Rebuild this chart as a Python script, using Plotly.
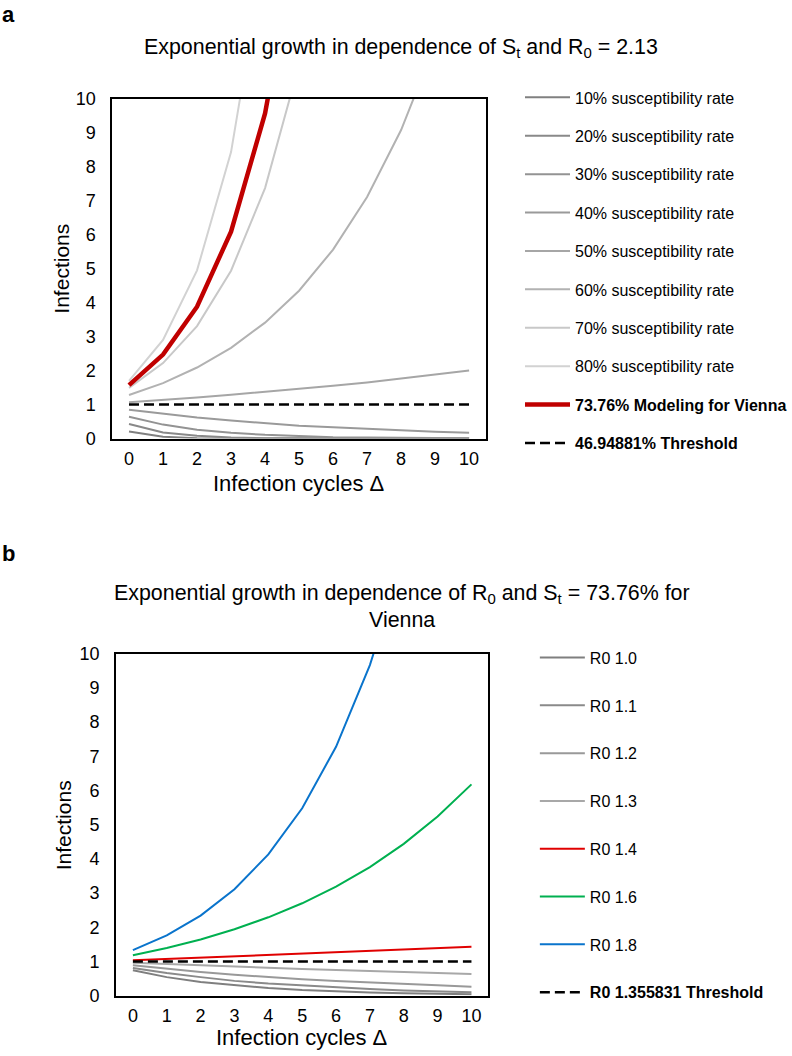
import plotly.graph_objects as go

# infection cycles (x axis of both panels)
cycles = [0, 1, 2, 3, 4, 5, 6, 7, 8, 9, 10]
tick_labels = ["0", "1", "2", "3", "4", "5", "6", "7", "8", "9", "10"]

# panel a: susceptibility rates with R0 = 2.13
names_a = [
    "10% susceptibility rate", "20% susceptibility rate", "30% susceptibility rate",
    "40% susceptibility rate", "50% susceptibility rate", "60% susceptibility rate",
    "70% susceptibility rate", "80% susceptibility rate",
    "<b>73.76% Modeling for Vienna</b>", "<b>46.94881% Threshold</b>",
]
s10 = [0.21, 0.05, 0.01, 0.00, 0.00, 0.00, 0.00, 0.00, 0.00, 0.00, 0.00]
s20 = [0.43, 0.18, 0.08, 0.03, 0.01, 0.01, 0.00, 0.00, 0.00, 0.00, 0.00]
s30 = [0.64, 0.41, 0.26, 0.17, 0.11, 0.07, 0.04, 0.03, 0.02, 0.01, 0.01]
s40 = [0.85, 0.73, 0.62, 0.53, 0.45, 0.38, 0.33, 0.28, 0.24, 0.20, 0.17]
s50 = [1.07, 1.13, 1.21, 1.29, 1.37, 1.46, 1.55, 1.65, 1.76, 1.88, 2.00]
s60 = [1.28, 1.63, 2.09, 2.67, 3.41, 4.35, 5.56, 7.11, 9.08, 11.6]
s70 = [1.49, 2.22, 3.31, 4.94, 7.37, 11.0]
s80 = [1.70, 2.90, 4.95, 8.43, 14.4]
vienna = [1.57, 2.47, 3.88, 6.09, 9.57, 15.0]
threshold_a = [1.0, 1.0, 1.0, 1.0, 1.0, 1.0, 1.0, 1.0, 1.0, 1.0, 1.0]

# panel b: R0 values with St = 73.76%
names_b = ["R0 1.0", "R0 1.1", "R0 1.2", "R0 1.3", "R0 1.4", "R0 1.6", "R0 1.8",
           "<b>R0 1.355831 Threshold</b>"]
r10 = [0.74, 0.54, 0.40, 0.30, 0.22, 0.16, 0.12, 0.09, 0.07, 0.05, 0.04]
r11 = [0.81, 0.66, 0.54, 0.43, 0.35, 0.29, 0.23, 0.19, 0.15, 0.12, 0.10]
r12 = [0.89, 0.78, 0.69, 0.61, 0.54, 0.48, 0.43, 0.38, 0.33, 0.30, 0.26]
r13 = [0.96, 0.92, 0.88, 0.85, 0.81, 0.78, 0.75, 0.72, 0.69, 0.66, 0.63]
r14 = [1.03, 1.07, 1.10, 1.14, 1.18, 1.22, 1.26, 1.30, 1.34, 1.38, 1.43]
r16 = [1.18, 1.39, 1.64, 1.94, 2.29, 2.70, 3.19, 3.76, 4.44, 5.24, 6.18]
r18 = [1.33, 1.76, 2.34, 3.11, 4.13, 5.48, 7.28, 9.67, 12.8]
threshold_b = [1.0, 1.0, 1.0, 1.0, 1.0, 1.0, 1.0, 1.0, 1.0, 1.0, 1.0]

series_a = [s10, s20, s30, s40, s50, s60, s70, s80, vienna, threshold_a]
series_b = [r10, r11, r12, r13, r14, r16, r18, threshold_b]

colors_a = ["#808080", "#898989", "#939393", "#9a9a9a", "#a6a6a6", "#b2b2b2",
            "#c8c8c8", "#d2d2d2", "#c00000", "black"]
widths_a = [2, 2, 2, 2, 2, 2, 2, 2, 4.5, 2.5]
colors_b = ["#7f7f7f", "#8a8a8a", "#999999", "#a8a8a8", "#e00000", "#00b050",
            "#0a74cc", "black"]
widths_b = [2, 2, 2, 2, 2, 2, 2, 2.5]

FONT = "Liberation Sans, Arial, sans-serif"
W, H = 792, 1056
# measured from earlier renders: the legends push the margins a little, so the
# plot comes out slightly squeezed vertically and pushed down; pre-correct that
SQUEEZE, SHIFT = 0.9817, 8.64

fig = go.Figure()

for i, (name, vals) in enumerate(zip(names_a, series_a)):
    dash = "10px,5px" if "Threshold" in name else "solid"
    fig.add_trace(go.Scatter(
        x=cycles[:len(vals)], y=vals, mode="lines", name=name,
        line=dict(color=colors_a[i], width=widths_a[i], dash=dash),
        xaxis="x", yaxis="y", legend="legend", legendgroup="a%d" % i,
    ))

for i, (name, vals) in enumerate(zip(names_b, series_b)):
    dash = "10px,5px" if "Threshold" in name else "solid"
    fig.add_trace(go.Scatter(
        x=cycles[:len(vals)], y=vals, mode="lines", name=name,
        line=dict(color=colors_b[i], width=widths_b[i], dash=dash),
        xaxis="x2", yaxis="y2", legend="legend2", legendgroup="b%d" % i,
    ))


def fig_y(p):
    # target picture row -> figure pixel row
    return p / SQUEEZE - SHIFT


def px_x(p):
    return p / W


def px_y(p):
    return 1 - fig_y(p) / H


def raw_y(f):
    # figure pixel row -> paper fraction
    return 1 - f / H


xaxis_style = dict(
    range=[-0.5, 10.5], tickmode="array", tickvals=cycles, ticktext=tick_labels,
    ticks="", showgrid=False, zeroline=False, showline=True, mirror=True,
    linecolor="black", linewidth=1.5, tickfont=dict(size=18, color="black"),
    ticklabelstandoff=3, fixedrange=True,
)
yaxis_style = dict(
    range=[0, 10], tickmode="array", tickvals=cycles, ticktext=tick_labels,
    ticks="", showgrid=False, zeroline=False, showline=True, mirror=True,
    linecolor="black", linewidth=1.5, tickfont=dict(size=18, color="black"),
    ticklabelstandoff=11, fixedrange=True,
)

legend_style = dict(
    xanchor="left", yanchor="top", font=dict(size=16, color="black", family=FONT),
    traceorder="grouped", bgcolor="rgba(0,0,0,0)", itemclick=False,
    itemdoubleclick=False, itemwidth=45,
)

fig.update_layout(
    width=W, height=H,
    margin=dict(l=0, r=0, t=0, b=0),
    paper_bgcolor="white", plot_bgcolor="white",
    font=dict(family=FONT, color="black"),
    xaxis=dict(domain=[px_x(113.3), px_x(491.7)], anchor="y", **xaxis_style),
    yaxis=dict(domain=[px_y(437.3), px_y(97.3)], anchor="x", **yaxis_style),
    xaxis2=dict(domain=[px_x(117.3), px_x(494)], anchor="y2", **xaxis_style),
    yaxis2=dict(domain=[px_y(994.7), px_y(652.7)], anchor="x2", **yaxis_style),
    legend=dict(x=px_x(526), y=raw_y(fig_y(98) - 19.4), tracegroupgap=14.6, **legend_style),
    legend2=dict(x=px_x(541), y=raw_y(fig_y(657) - 17.8), tracegroupgap=24, **legend_style),
    showlegend=True,
)

annotations = [
    dict(text="<b>a</b>", x=0, y=raw_y(5), xanchor="left", yanchor="middle", font=dict(size=22)),
    dict(text="<b>b</b>", x=0, y=raw_y(554), xanchor="left", yanchor="middle", font=dict(size=22)),
    dict(text="Exponential growth in dependence of S<sub>t</sub> and R<sub>0</sub> = 2.13",
         x=px_x(406), y=px_y(47), xanchor="center", yanchor="middle", font=dict(size=21.4)),
    dict(text="Exponential growth in dependence of R<sub>0</sub> and S<sub>t</sub> = 73.76% for",
         x=px_x(406.5), y=px_y(593), xanchor="center", yanchor="middle", font=dict(size=21.4)),
    dict(text="Vienna",
         x=px_x(407), y=px_y(619), xanchor="center", yanchor="middle", font=dict(size=21.4)),
    dict(text="Infections", x=px_x(62), y=px_y(267), textangle=-90,
         xanchor="center", yanchor="middle", font=dict(size=21)),
    dict(text="Infections", x=px_x(65), y=px_y(824), textangle=-90,
         xanchor="center", yanchor="middle", font=dict(size=21)),
    dict(text="Infection cycles \u0394", x=px_x(302), y=raw_y(483),
         xanchor="center", yanchor="middle", font=dict(size=22)),
    dict(text="Infection cycles \u0394", x=px_x(305), y=raw_y(1047),
         xanchor="center", yanchor="middle", font=dict(size=22)),
]
for a in annotations:
    a.update(xref="paper", yref="paper", showarrow=False)
    a["font"].update(family=FONT, color="black")
fig.update_layout(annotations=annotations)

# drop the default 8px page margin so paper pixels line up with the window
fig.write_html("out.html", config={"displayModeBar": False},
               post_script="document.body.style.margin = '0';")
